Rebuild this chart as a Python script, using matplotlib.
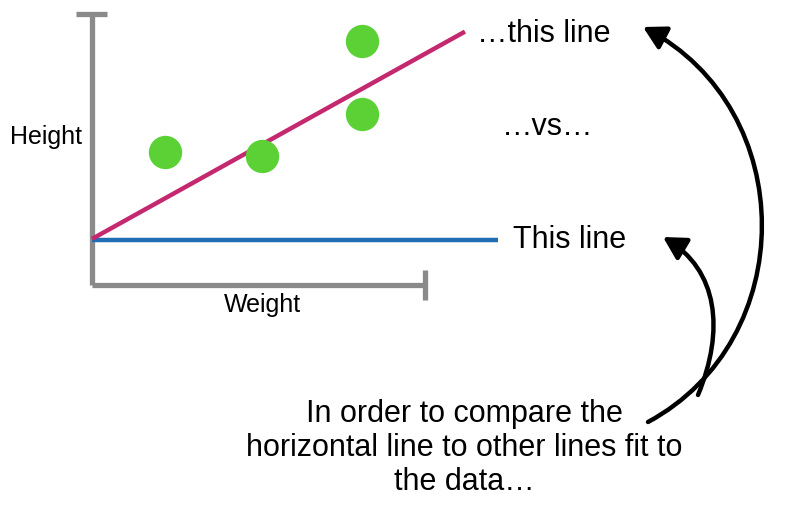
import numpy as np
import matplotlib.pyplot as plt
from matplotlib.patches import FancyArrowPatch
from matplotlib.path import Path

plt.rcParams['font.family'] = ['Liberation Sans', 'DejaVu Sans']

# dados do diagrama (unidades arbitrarias: peso x altura)
peso = [2.2, 5.1, 8.1, 8.1]
altura = [4.9, 4.75, 9.0, 6.3]
linha_fit_x = [0, 11.2]
linha_fit_y = [1.7, 9.35]
linha_horiz_x = [0, 12.2]
linha_horiz_y = [1.66, 1.66]

W, H = 786, 513
fig = plt.figure(figsize=(W / 100, H / 100), dpi=100)

def fx(px):
    return px / W

def fy(py):
    return 1 - py / H

# eixo do grafico: origem em (92, 285) px, topo em 14 px, direita em 425 px
ax = fig.add_axes([fx(92), fy(285), fx(425) - fx(92), fy(14) - fy(285)])
ax.set_xlim(0, 10)
ax.set_ylim(0, 10)
ax.axis('off')

cinza = '#8a8a8a'
ax.plot([0, 0], [0, 10], color=cinza, lw=3.8, clip_on=False, solid_capstyle='butt')
ax.plot([0, 10], [0, 0], color=cinza, lw=3.8, clip_on=False, solid_capstyle='butt')
ax.plot([-0.48, 0.45], [10, 10], color=cinza, lw=3.8, clip_on=False, solid_capstyle='butt')
ax.plot([10, 10], [-0.55, 0.55], color=cinza, lw=3.8, clip_on=False, solid_capstyle='butt')

ax.plot(linha_horiz_x, linha_horiz_y, color='#1f6db3', lw=3.2, clip_on=False,
        solid_capstyle='butt')
ax.plot(linha_fit_x, linha_fit_y, color='#c4286e', lw=3.2, clip_on=False,
        solid_capstyle='butt')
ax.plot(peso, altura, 'o', color='#5bd136', ms=24, mec='none', clip_on=False, zorder=3)

# rotulos
fig.text(fx(46), fy(137), 'Height', ha='center', va='center', fontsize=18)
fig.text(fx(262), fy(305), 'Weight', ha='center', va='center', fontsize=18)
fig.text(fx(477), fy(34), '\u2026this line', ha='left', va='center', fontsize=22)
fig.text(fx(502), fy(127), '\u2026vs\u2026', ha='left', va='center', fontsize=22)
fig.text(fx(513), fy(240), 'This line', ha='left', va='center', fontsize=22)
fig.text(fx(464), fy(448),
         'In order to compare the\nhorizontal line to other lines fit to\nthe data\u2026',
         ha='center', va='center', fontsize=22, linespacing=1.18)

# setas curvas
def seta(pts):
    pts = [(fx(x), fy(y)) for x, y in pts]
    caminho = Path(pts, [Path.MOVETO, Path.CURVE4, Path.CURVE4, Path.CURVE4])
    a = FancyArrowPatch(path=caminho, transform=fig.transFigure,
                        arrowstyle='-|>,head_length=9,head_width=5',
                        color='black', lw=3.2, mutation_scale=1.5)
    fig.add_artist(a)

seta([(648, 422), (800, 340), (800, 110), (643, 27)])
seta([(698, 395), (725, 330), (718, 270), (663, 237)])

plt.savefig('out.png', dpi=100)
